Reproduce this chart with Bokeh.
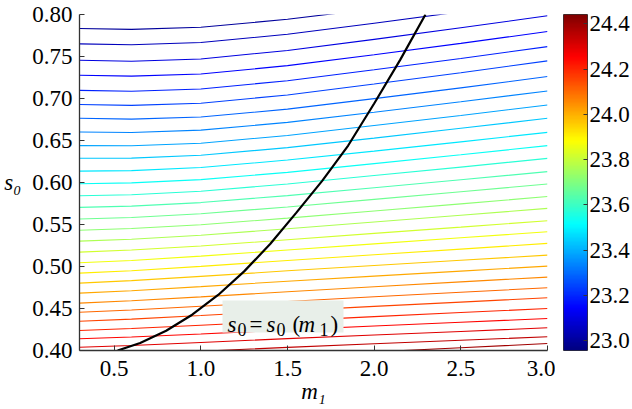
import numpy as np
from bokeh.plotting import figure
from bokeh.layouts import row
from bokeh.models import (ColumnDataSource, LinearColorMapper, FixedTicker,
                          NumeralTickFormatter, Label, BoxAnnotation, Range1d)
from bokeh.transform import linear_cmap
from bokeh.embed import file_html
from bokeh.resources import INLINE

# ---------------- data ----------------
m1_grid = [0.3, 0.6, 1.0, 1.5, 2.0, 2.5, 3.0]

levels = [23.000, 23.048, 23.096, 23.144, 23.192, 23.240, 23.288, 23.336,
          23.384, 23.432, 23.480, 23.528, 23.576, 23.624, 23.672, 23.720,
          23.768, 23.816, 23.864, 23.912, 23.960, 24.008, 24.056, 24.104,
          24.152, 24.200, 24.248, 24.296, 24.344, 24.392]

s0_lines = [
    [0.7833, 0.7823, 0.7848, 0.7943, 0.8068, 0.8198, 0.8333],
    [0.7650, 0.7640, 0.7666, 0.7765, 0.7896, 0.8033, 0.8174],
    [0.7455, 0.7444, 0.7471, 0.7572, 0.7704, 0.7842, 0.7985],
    [0.7276, 0.7266, 0.7292, 0.7391, 0.7521, 0.7656, 0.7797],
    [0.7097, 0.7087, 0.7113, 0.7212, 0.7342, 0.7477, 0.7618],
    [0.6928, 0.6918, 0.6944, 0.7042, 0.7172, 0.7307, 0.7448],
    [0.6764, 0.6754, 0.6779, 0.6873, 0.6998, 0.7127, 0.7261],
    [0.6601, 0.6595, 0.6623, 0.6716, 0.6836, 0.6961, 0.7090],
    [0.6439, 0.6437, 0.6468, 0.6560, 0.6678, 0.6798, 0.6923],
    [0.6288, 0.6290, 0.6324, 0.6415, 0.6528, 0.6645, 0.6765],
    [0.6136, 0.6141, 0.6178, 0.6267, 0.6374, 0.6484, 0.6597],
    [0.5986, 0.5995, 0.6034, 0.6121, 0.6225, 0.6330, 0.6439],
    [0.5843, 0.5855, 0.5896, 0.5983, 0.6083, 0.6183, 0.6287],
    [0.5704, 0.5719, 0.5761, 0.5844, 0.5938, 0.6033, 0.6129],
    [0.5565, 0.5583, 0.5628, 0.5709, 0.5799, 0.5890, 0.5982],
    [0.5431, 0.5452, 0.5497, 0.5576, 0.5661, 0.5746, 0.5833],
    [0.5302, 0.5325, 0.5372, 0.5449, 0.5530, 0.5610, 0.5692],
    [0.5171, 0.5196, 0.5244, 0.5318, 0.5394, 0.5469, 0.5545],
    [0.5045, 0.5072, 0.5123, 0.5196, 0.5269, 0.5342, 0.5414],
    [0.4921, 0.4950, 0.5001, 0.5071, 0.5140, 0.5207, 0.5275],
    [0.4802, 0.4832, 0.4882, 0.4949, 0.5012, 0.5074, 0.5136],
    [0.4683, 0.4712, 0.4760, 0.4825, 0.4886, 0.4945, 0.5005],
    [0.4564, 0.4592, 0.4638, 0.4700, 0.4759, 0.4817, 0.4874],
    [0.4456, 0.4482, 0.4526, 0.4584, 0.4639, 0.4693, 0.4747],
    [0.4349, 0.4374, 0.4416, 0.4472, 0.4525, 0.4576, 0.4628],
    [0.4238, 0.4262, 0.4301, 0.4353, 0.4403, 0.4452, 0.4500],
    [0.4139, 0.4161, 0.4197, 0.4245, 0.4291, 0.4336, 0.4381],
    [0.4039, 0.4060, 0.4095, 0.4141, 0.4185, 0.4227, 0.4270],
    [0.3937, 0.3957, 0.3991, 0.4037, 0.4080, 0.4122, 0.4163],
    [0.3780, 0.3810, 0.3850, 0.3910, 0.3983, 0.4033, 0.4083],
]

curve_m1 = [0.52, 0.65, 0.80, 0.95, 1.10, 1.25, 1.40, 1.55, 1.70, 1.85, 2.00, 2.15, 2.296]
curve_s0 = [0.400, 0.409, 0.4235, 0.4426, 0.4661, 0.4942, 0.5267, 0.5638, 0.602, 0.644, 0.694, 0.746, 0.800]

x_ticks = [0.5, 1.0, 1.5, 2.0, 2.5, 3.0]
y_ticks = [0.40, 0.45, 0.50, 0.55, 0.60, 0.65, 0.70, 0.75, 0.80]
cbar_ticks = [23.0, 23.2, 23.4, 23.6, 23.8, 24.0, 24.2, 24.4]
cbar_low, cbar_high = 22.956, 24.441

# ---------------- style ----------------
FONT = "Liberation Serif"
AX = "#333333"

def jet(n=256):
    t = np.linspace(0, 1, n)
    r = np.clip(np.minimum(4 * t - 1.5, -4 * t + 4.5), 0, 1)
    g = np.clip(np.minimum(4 * t - 0.5, -4 * t + 3.5), 0, 1)
    b = np.clip(np.minimum(4 * t + 0.5, -4 * t + 2.5), 0, 1)
    return ["#%02x%02x%02x" % (int(round(255 * a)), int(round(255 * c)), int(round(255 * d)))
            for a, c, d in zip(r, g, b)]

JET = jet()
mapper = LinearColorMapper(palette=JET, low=cbar_low, high=cbar_high)

p = figure(width=555, height=409, output_backend="svg", toolbar_location=None,
           x_range=Range1d(0.3, 3.0), y_range=Range1d(0.40, 0.80),
           min_border_left=79, min_border_right=8, min_border_top=14, min_border_bottom=59)
p.outline_line_color = None
p.grid.visible = False
p.background_fill_color = "white"

for ax in (p.xaxis[0], p.yaxis[0]):
    ax.axis_line_color = AX
    ax.axis_line_width = 1.3
    ax.major_tick_line_color = AX
    ax.major_tick_in = 5
    ax.major_tick_out = 0
    ax.minor_tick_line_color = None
    ax.major_label_text_font = FONT
    ax.major_label_text_font_size = "23px"
    ax.major_label_text_color = "black"
    ax.axis_label_text_font = FONT
    ax.axis_label_text_font_size = "23px"
    ax.axis_label_text_font_style = "italic"
    ax.axis_label_text_color = "black"

p.xaxis.ticker = FixedTicker(ticks=x_ticks)
p.xaxis.formatter = NumeralTickFormatter(format="0.0")
p.xaxis.major_label_standoff = 10
p.xaxis.axis_label = "m\u2081"
p.xaxis.axis_label_standoff = 0

p.yaxis.ticker = FixedTicker(ticks=y_ticks)
p.yaxis.formatter = NumeralTickFormatter(format="0.00")
p.yaxis.major_label_standoff = 7
p.yaxis.axis_label = "s\u2080"
p.yaxis.axis_label_orientation = "horizontal"
p.yaxis.axis_label_standoff = 8

src = ColumnDataSource(dict(xs=[m1_grid] * len(s0_lines), ys=s0_lines, level=levels))
p.multi_line(xs="xs", ys="ys", source=src, line_width=1.1,
             line_color=linear_cmap("level", JET, cbar_low, cbar_high))

p.line(curve_m1, curve_s0, line_color="black", line_width=2.2)

def X(px):
    return 0.3 + (px - 79) * 2.7 / 468

def Y(py):
    return 0.8 - (py - 14.3) * 0.4 / 335.7

p.add_layout(BoxAnnotation(left=X(222), right=X(343), bottom=Y(332), top=Y(300),
                           fill_color="#e8efe9", fill_alpha=1.0, line_color=None))

def lab(text, px, py, size, italic=False):
    p.add_layout(Label(x=X(px), y=Y(py), text=text, text_font=FONT,
                       text_font_size=size, text_font_style="italic" if italic else "normal",
                       text_baseline="alphabetic", text_align="left", text_color="black"))

lab("s", 227, 324.5, "23px", True)
lab("0", 237, 329.5, "18px")
lab("=", 249, 324.5, "23px")
lab("s", 266, 324.5, "23px", True)
lab("0", 276, 329.5, "18px")
lab("(", 292, 324.5, "23px")
lab("m", 298, 324.5, "23px", True)
lab("1", 319, 329.5, "18px")
lab(")", 330, 324.5, "23px")

# ---------------- colour bar ----------------
cb = figure(width=77, height=409, output_backend="svg", toolbar_location=None,
            x_range=Range1d(0, 1), y_range=Range1d(cbar_low, cbar_high),
            y_axis_location="right",
            min_border_left=8, min_border_right=45, min_border_top=14, min_border_bottom=59)
cb.grid.visible = False
cb.xaxis.visible = False
cb.outline_line_color = AX
cb.outline_line_width = 1.0
grad = np.linspace(cbar_low, cbar_high, 256).reshape(256, 1)
cb.image(image=[grad], x=0, y=cbar_low, dw=1, dh=cbar_high - cbar_low, color_mapper=mapper)
ya = cb.yaxis[0]
ya.ticker = FixedTicker(ticks=cbar_ticks)
ya.formatter = NumeralTickFormatter(format="0.0")
ya.axis_line_color = None
ya.major_tick_line_color = AX
ya.major_tick_in = 4
ya.major_tick_out = 0
ya.minor_tick_line_color = None
ya.major_label_standoff = 2
ya.major_label_text_font = FONT
ya.major_label_text_font_size = "23px"
ya.major_label_text_color = "black"

layout = row(p, cb)
open("out.html", "w").write(file_html(layout, INLINE))
